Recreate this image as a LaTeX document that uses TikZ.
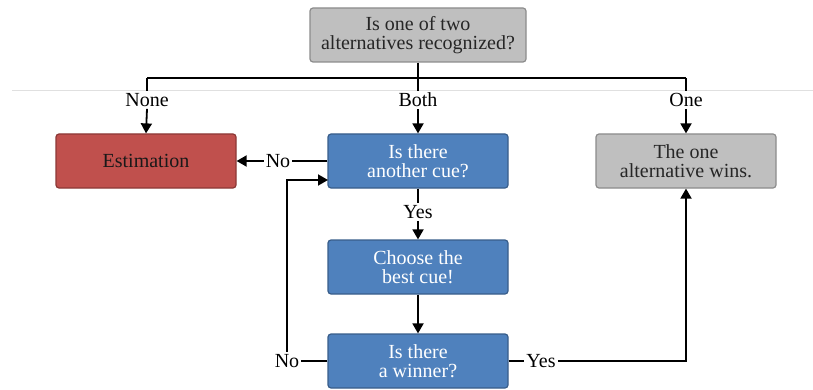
\documentclass[tikz,border=0pt]{standalone}
\usepackage{fontspec}
\setmainfont{Liberation Serif}
\usetikzlibrary{arrows.meta}
\definecolor{boxgray}{HTML}{BFBFBF}
\definecolor{edgegray}{HTML}{8C8C8C}
\definecolor{boxred}{HTML}{C0504D}
\definecolor{edgered}{HTML}{8C3836}
\definecolor{boxblue}{HTML}{4F81BD}
\definecolor{edgeblue}{HTML}{385D8A}
\begin{document}
\begin{tikzpicture}[x=1pt,y=-1pt,
  box/.style={rounded corners=3pt, line width=1.2pt, minimum width=180pt, minimum height=54pt, align=center, inner sep=1pt, font=\fontsize{20}{19.5}\selectfont},
  graybox/.style={box, draw=edgegray, fill=boxgray, text=black!85},
  redbox/.style={box, draw=edgered, fill=boxred, text=black!90},
  bluebox/.style={box, draw=edgeblue, fill=boxblue, text=white},
  lbl/.style={fill=white, inner sep=2pt, font=\fontsize{20}{20}\selectfont},
  link/.style={line width=1.8pt},
  arr/.style={link, -{Triangle[length=10pt,width=11pt]}}]
\useasboundingbox (0,0) rectangle (813,390);
\draw[black!12, line width=0.6pt] (12,90) -- (813,90);
\node[graybox, minimum width=216pt] (top) at (418,35) {Is one of two\\alternatives recognized?};
\node[redbox] (est) at (146,161) {Estimation};
\node[bluebox] (cue) at (418,161) {Is there\\another cue?};
\node[graybox] (wins) at (686,161) {The one\\alternative wins.};
\node[bluebox] (best) at (418,267) {Choose the\\best cue!};
\node[bluebox] (winner) at (418,361) {Is there\\a winner?};
\node[lbl] (none) at (147,100) {None};
\node[lbl] (both) at (418,100) {Both};
\node[lbl] (one) at (686,100) {One};
\node[lbl] (noleft) at (278,161) {No};
\node[lbl] (yesmid) at (418,212) {Yes};
\node[lbl] (nolow) at (287,361) {No};
\node[lbl] (yesright) at (541,361) {Yes};
\coordinate (split) at (418,78);
\coordinate (back) at (328,180);
\draw[link] (top.south) -- (both.north);
\draw[link] (split -| none) -- (split -| one);
\draw[link] (split -| none) -- (none.north);
\draw[link] (split -| one) -- (one.north);
\draw[arr] (none.south) -- (est.north);
\draw[arr] (both.south) -- (cue.north);
\draw[arr] (one.south) -- (wins.north);
\draw[link] (cue.west) -- (noleft.east);
\draw[arr] (noleft.west) -- (est.east);
\draw[link] (cue.south) -- (yesmid.north);
\draw[arr] (yesmid.south) -- (best.north);
\draw[arr] (best.south) -- (winner.north);
\draw[link] (winner.west) -- (nolow.east);
\draw[arr] (nolow.north) |- (back);
\draw[link] (winner.east) -- (yesright.west);
\draw[arr] (yesright.east) -| (wins.south);
\end{tikzpicture}
\end{document}
